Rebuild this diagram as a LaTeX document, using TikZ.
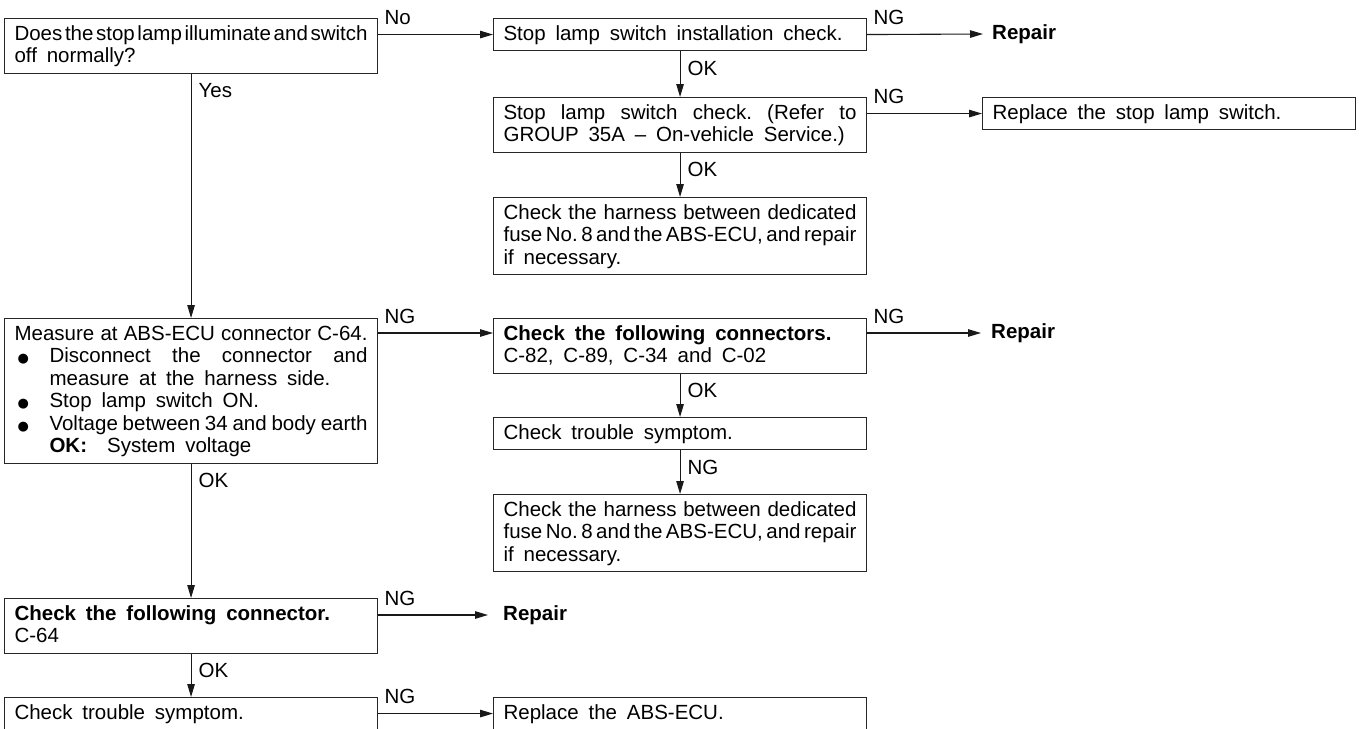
\documentclass[tikz,border=0pt]{standalone}
\usepackage{fontspec}
\setmainfont{Liberation Sans}
\newfontfamily\symfont{DejaVu Sans}
\usetikzlibrary{arrows.meta}

% body text with a fixed line pitch and wide word spaces
\newcommand\bodyfont{\fontsize{20.5}{22.5}\selectfont}
\newcommand\wsp{\frenchspacing\spaceskip=0.48em plus 0.3em minus 0.45em\relax}
\newcommand\lstrut{\rule[-5.5pt]{0pt}{22.5pt}}
% justified line, plain line
\newcommand\jl[1]{\makebox[\linewidth][s]{\wsp#1}\lstrut}
\newcommand\pl[1]{\mbox{\wsp#1}\lstrut}
% bulleted lines and their continuation
\newcommand\bulmark{\makebox[35pt][l]{\hspace{3pt}{\fontsize{13}{13}\symfont ●}}}
\newcommand\bjl[1]{\bulmark\makebox[\dimexpr\linewidth-35pt\relax][s]{\wsp#1}\lstrut}
\newcommand\bln[1]{\bulmark\mbox{\wsp#1}\lstrut}
\newcommand\iln[1]{\hspace*{35pt}\mbox{\wsp#1}\lstrut}

\begin{document}
\begin{tikzpicture}[x=1pt,y=-1pt,
  box/.style={draw=black!85, line width=1.1pt, anchor=north west, inner xsep=10pt,
    inner ysep=4.75pt, text width=353pt, align=left, font=\bodyfont},
  conn/.style={draw=black!90, line width=1.1pt, -{Triangle[length=13pt,width=7.5pt]}},
  lbl/.style={inner sep=0pt, font=\bodyfont},
  hl/.style={lbl, pos=0, anchor=base west, xshift=6pt, yshift=10pt},
  vl/.style={lbl, pos=0, anchor=base west, xshift=7pt, yshift=-24pt},
  rep/.style={inner sep=0pt, anchor=west, font=\bodyfont\bfseries}]
\useasboundingbox (0,0) rectangle (1365,728);

% boxes
\node[box] (qA) at (4,18) {\jl{Does the stop lamp illuminate and switch}\\\pl{off normally?}};
\node[box] (inst) at (493,18) {\pl{Stop lamp switch installation check.}};
\node[box] (swchk) at (493,97) {\jl{Stop lamp switch check. (Refer to}\\\pl{GROUP 35A -- On-vehicle Service.)}};
\node[box] (harn1) at (493,197) {\jl{Check the harness between dedicated}\\\jl{fuse No. 8 and the ABS-ECU, and repair}\\\pl{if necessary.}};
\node[box] (swrep) at (982,97) {\pl{Replace the stop lamp switch.}};

\node[box] (meas) at (4,318) {\jl{Measure at ABS-ECU connector C-64.}\\
  \bjl{Disconnect the connector and}\\
  \iln{measure at the harness side.}\\
  \bln{Stop lamp switch ON.}\\
  \bjl{Voltage between 34 and body earth}\\
  \iln{\textbf{OK:}\hspace{20pt}System voltage}};
\node[box] (conns) at (493,318) {\pl{\textbf{Check the following connectors.}}\\\pl{C-82, C-89, C-34 and C-02}};
\node[box] (sym1) at (493,417) {\pl{Check trouble symptom.}};
\node[box] (harn2) at (493,494) {\jl{Check the harness between dedicated}\\\jl{fuse No. 8 and the ABS-ECU, and repair}\\\pl{if necessary.}};

\node[box] (c64) at (4,598) {\pl{\textbf{Check the following connector.}}\\\pl{C-64}};
\node[box] (sym2) at (4,697) {\pl{Check trouble symptom.}};
\node[box] (ecurep) at (493,697) {\pl{Replace the ABS-ECU.}};

% terminal texts
\node[rep] (rp1) at (992,34) {Repair};
\node[rep] (rp2) at (991,333) {Repair};
\node[rep] (rp3) at (503,615) {Repair};

% connectors
\draw[conn] (qA.east |- inst.west) -- node[hl]{No} (inst.west);
\draw[conn] (inst.east) -- node[hl]{NG} ([xshift=-9pt]rp1.west);
\draw[conn] (inst.south) -- node[vl]{OK} (swchk.north);
\draw[conn] (swchk.east |- swrep.west) -- node[hl]{NG} (swrep.west);
\draw[conn] (swchk.south) -- node[vl]{OK} (harn1.north);

\draw[conn] (qA.south) -- node[vl]{Yes} (meas.north);
\draw[conn] ([yshift=-15pt]meas.north east) -- node[hl]{NG} ([yshift=-15pt]conns.north west);
\draw[conn] ([yshift=-15pt]conns.north east) -- node[hl]{NG} ([xshift=-10pt]rp2.west);
\draw[conn] (conns.south) -- node[vl]{OK} (sym1.north);
\draw[conn] (sym1.south) -- node[vl]{NG} (harn2.north);

\draw[conn] (meas.south) -- node[vl]{OK} (c64.north);
\draw[conn] ([yshift=-17pt]c64.north east) -- node[hl]{NG} ([xshift=-15pt]rp3.west);
\draw[conn] (c64.south) -- node[vl]{OK} (sym2.north);
\draw[conn] (sym2.east) -- node[hl]{NG} (ecurep.west);
\end{tikzpicture}
\end{document}
